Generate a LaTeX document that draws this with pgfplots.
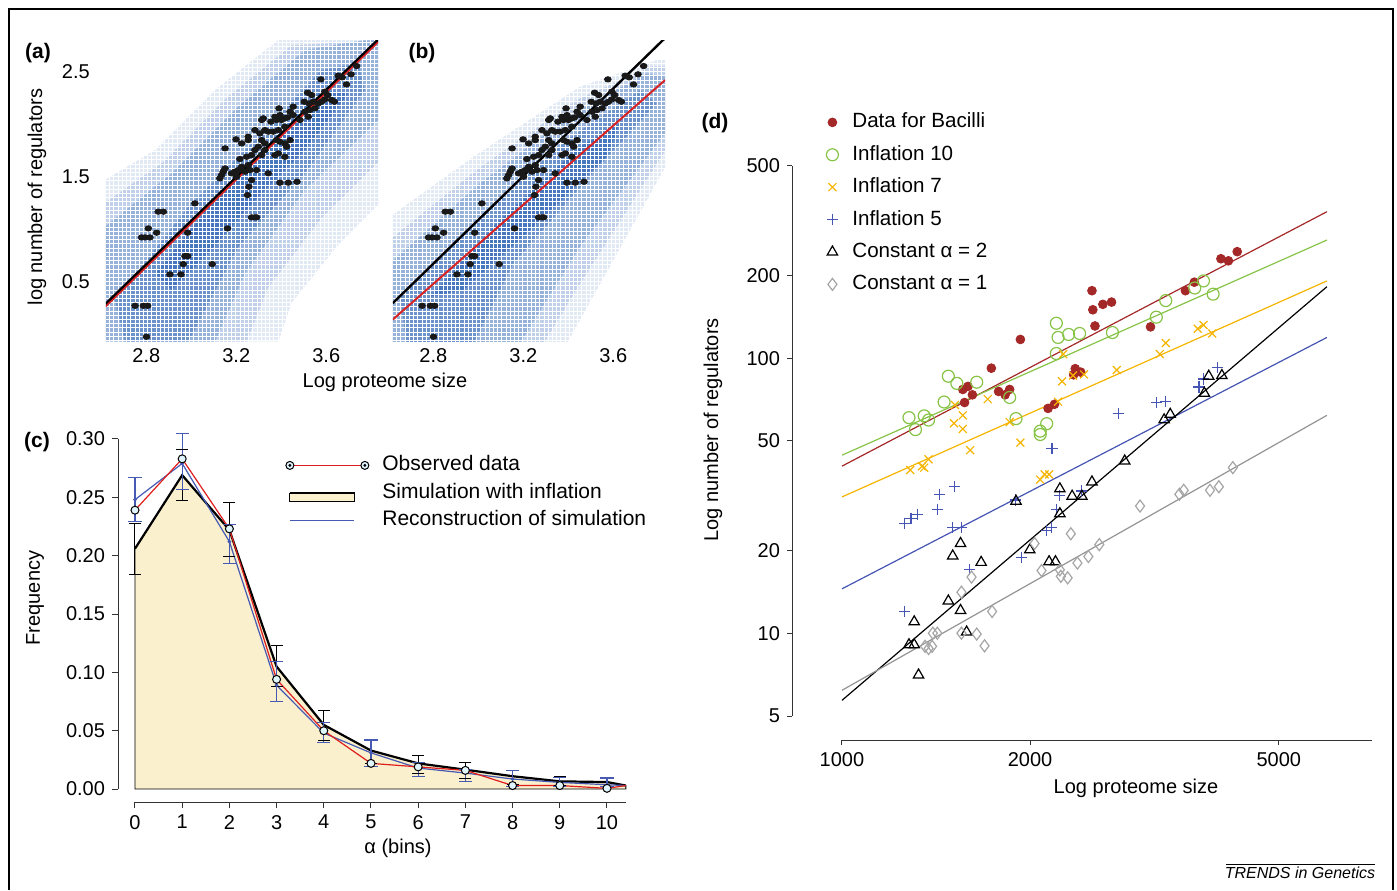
\documentclass[border=0pt]{standalone}
\usepackage{fontspec}
\setmainfont{Liberation Sans}
\usepackage{pgfplots}
\usepackage{pgfplotstable}
\pgfplotsset{compat=1.18}

\definecolor{heat}{RGB}{25,85,175}
\definecolor{fitred}{RGB}{215,35,35}
\definecolor{beige}{RGB}{250,240,205}
\definecolor{recblue}{RGB}{70,90,180}
\definecolor{obsred}{RGB}{225,30,30}
\definecolor{bacred}{RGB}{165,40,40}
\definecolor{infgreen}{RGB}{135,195,70}
\definecolor{infyellow}{RGB}{245,180,0}
\definecolor{infblue}{RGB}{70,85,180}
\definecolor{constgray}{RGB}{165,165,165}

% genomes: log proteome size vs log number of regulators
\pgfplotstableread{
x y
3.735 2.554
3.710 2.475
3.653 2.462
3.671 2.446
3.690 2.379
3.576 2.427
3.594 2.310
3.606 2.278
3.624 2.230
3.636 2.214
3.517 2.300
3.535 2.278
3.502 2.214
3.523 2.198
3.542 2.214
3.564 2.198
3.579 2.214
3.594 2.237
3.505 2.119
3.527 2.135
3.550 2.151
3.520 2.071
3.483 2.040
3.453 2.167
3.439 2.119
3.428 2.065
3.453 2.087
3.390 2.151
3.394 2.087
3.372 2.071
3.379 2.040
3.401 2.040
3.416 2.056
3.354 2.024
3.313 2.040
3.320 2.056
3.416 1.976
3.387 1.944
3.364 1.929
3.342 1.929
3.327 1.944
3.283 1.944
3.305 1.913
3.439 1.849
3.416 1.817
3.424 1.786
3.394 1.833
3.379 1.849
3.253 1.881
3.253 1.849
3.199 1.856
3.224 1.817
3.313 1.849
3.327 1.817
3.298 1.786
3.283 1.754
3.268 1.706
3.246 1.690
3.216 1.668
3.150 1.770
3.387 1.722
3.372 1.706
3.416 1.690
3.313 1.706
3.327 1.754
3.224 1.595
3.209 1.563
3.194 1.548
3.179 1.532
3.201 1.500
3.150 1.579
3.142 1.548
3.135 1.516
3.127 1.484
3.253 1.611
3.261 1.563
3.290 1.563
3.239 1.548
3.342 1.532
3.268 1.468
3.256 1.405
3.250 1.325
3.394 1.443
3.431 1.443
3.470 1.452
3.016 1.246
2.853 1.167
2.876 1.167
3.268 1.113
3.283 1.113
3.290 1.113
2.809 1.008
2.846 0.967
2.984 0.967
3.161 1.008
2.779 0.922
2.794 0.922
2.816 0.922
2.972 0.744
2.984 0.744
2.964 0.668
3.093 0.668
2.905 0.570
2.954 0.570
2.750 0.271
2.787 0.271
2.806 0.271
2.801 -0.024
}\genomes

\pgfplotsset{
  tickfont/.style={font=\fontsize{10}{12}\selectfont},
  heatback/.style={
    scale only axis, width=136.1pt, height=150.7pt,
    xmin=2.62, xmax=3.83, ymin=-0.07, ymax=2.80,
    axis line style={draw=none}, major tick length=0pt,
    xtick={2.6,2.6187,...,3.85}, ytick={-0.1,-0.06,...,2.86},
    xticklabels={}, yticklabels={},
    grid=major, major grid style={white, line width=0.45pt},
    axis on top,
  },
  dotfront/.style={
    scale only axis, width=136.1pt, height=150.7pt,
    xmin=2.62, xmax=3.83, ymin=-0.07, ymax=2.80,
    axis line style={draw=none}, major tick length=0pt,
    xtick={2.8,3.2,3.6}, xticklabels={2.8,3.2,3.6},
    tick label style={tickfont},
  },
  genome/.style={only marks, mark=*, mark size=1.35pt,
    mark options={xscale=1.25, fill=black!90, draw=black!90}},
  heatfill/.style={fill=heat, fill opacity=#1, draw=none},
}

\begin{document}
\begin{tikzpicture}
\path[use as bounding box] (0pt,0pt) rectangle (698.5pt,445pt);

% ---------- (a) ----------
\begin{axis}[heatback, at={(52.9pt,274.2pt)}, anchor=south west]
\addplot[heatfill=0.13] coordinates {(2.616,-0.071) (2.616,1.47) (2.839,1.754) (3.105,2.325) (3.387,2.802) (3.861,2.802) (3.861,1.30) (3.653,0.85) (3.446,0.30) (3.387,-0.071)} -- cycle;
\addplot[heatfill=0.17] coordinates {(2.616,-0.071) (2.616,1.25) (2.876,1.64) (3.157,2.25) (3.446,2.75) (3.861,2.802) (3.861,1.7) (3.58,1.11) (3.34,0.44) (3.246,-0.071)} -- cycle;
\addplot[heatfill=0.25] coordinates {(2.616,-0.071) (2.616,1.024) (2.913,1.532) (3.209,2.167) (3.505,2.706) (3.772,2.802) (3.861,2.802) (3.861,2.1) (3.505,1.373) (3.239,0.579) (3.105,-0.071)} -- cycle;
\addplot[heatfill=0.34] coordinates {(2.705,-0.071) (2.661,0.325) (2.987,1.214) (3.283,1.849) (3.579,2.516) (3.742,2.579) (3.772,2.325) (3.505,1.532) (3.209,0.833) (2.987,-0.071)} -- cycle;
\addplot[heatfill=0.45] coordinates {(2.839,0.579) (3.105,1.278) (3.357,1.849) (3.579,2.325) (3.698,2.294) (3.505,1.754) (3.283,1.278) (3.061,0.738) (2.913,0.421)} -- cycle;
\end{axis}
\begin{axis}[dotfront, at={(52.9pt,274.2pt)}, anchor=south west,
  ytick={0.5,1.5,2.5}, yticklabels={0.5,1.5,2.5},
  yticklabel style={xshift=-4.5pt}]
\addplot[genome] table[x=x, y=y] {\genomes};
\addplot[black, line width=1.6pt] coordinates {(2.62,0.286) (3.83,2.80)};
\addplot[fitred, line width=0.8pt] coordinates {(2.62,0.265) (3.83,2.78)};
\end{axis}

% ---------- (b) ----------
\begin{axis}[heatback, at={(196.4pt,274.2pt)}, anchor=south west]
\addplot[heatfill=0.13] coordinates {(2.607,-0.087) (2.607,1.119) (2.978,1.690) (3.452,2.357) (3.793,2.611) (3.84,2.611) (3.84,1.627) (3.452,0.135) (3.393,-0.087)} -- cycle;
\addplot[heatfill=0.17] coordinates {(2.607,-0.087) (2.607,0.9) (2.99,1.56) (3.437,2.23) (3.77,2.55) (3.84,2.55) (3.84,1.78) (3.452,0.48) (3.29,-0.087)} -- cycle;
\addplot[heatfill=0.25] coordinates {(2.607,-0.087) (2.607,0.675) (3.007,1.437) (3.422,2.103) (3.748,2.484) (3.84,2.452) (3.84,1.944) (3.452,0.833) (3.185,-0.087)} -- cycle;
\addplot[heatfill=0.34] coordinates {(2.681,-0.087) (2.652,0.357) (3.007,1.119) (3.393,1.849) (3.719,2.325) (3.793,2.198) (3.481,1.468) (3.156,0.675) (2.978,-0.087)} -- cycle;
\addplot[heatfill=0.45] coordinates {(2.785,0.357) (3.081,1.056) (3.452,1.786) (3.630,2.008) (3.570,1.690) (3.230,0.992) (2.933,0.421)} -- cycle;
\end{axis}
\begin{axis}[dotfront, at={(196.4pt,274.2pt)}, anchor=south west, ytick=\empty]
\addplot[genome] table[x=x, y=y] {\genomes};
\addplot[black, line width=1.2pt] coordinates {(2.62,0.296) (3.83,2.82)};
\addplot[fitred, line width=1.0pt] coordinates {(2.62,0.14) (3.83,2.42)};
\end{axis}

% ---------- (c) ----------
\begin{axis}[at={(59pt,44pt)}, anchor=south west, scale only axis,
  width=255.1pt, height=181.5pt,
  xmin=-0.36, xmax=10.45, ymin=-0.0111, ymax=0.30,
  axis x line*=bottom, axis y line*=left,
  axis line style={black!80, line width=0.5pt},
  x axis line style={shorten <=8.5pt, shorten >=1pt},
  y axis line style={shorten <=6.5pt},
  tick align=outside, major tick length=3pt,
  tick style={black!80, line width=0.5pt},
  xtick={0,1,2,3,4,5,6,7,8,9,10}, xticklabels={0,1,2,3,4,5,6,7,8,9,10},
  ytick={0,0.05,0.10,0.15,0.20,0.25,0.30},
  yticklabels={0.00,0.05,0.10,0.15,0.20,0.25,0.30},
  tick label style={tickfont},
  clip=false,
  legend style={at={(0.3273,0.9545)}, anchor=north west, draw=none, fill=none,
    inner sep=0pt, row sep=4.25pt, column sep=6.5pt,
    font=\fontsize{10.5}{12}\selectfont,
    nodes={inner sep=0pt, text height=7.5pt, text depth=2pt}},
  legend cell align=left,
]
\addplot[fill=beige, draw=black, line width=0.4pt, forget plot] coordinates {(0,0) (0,0.206) (1,0.269) (2,0.222) (3,0.105) (4,0.055) (5,0.033) (6,0.022) (7,0.0166) (8,0.011) (9,0.0066) (10,0.006) (10.4,0.003) (10.4,0)} -- cycle;
% simulation with inflation, with its error bars
\addplot[black, line width=1.1pt, mark=none, forget plot,
  error bars/.cd, y dir=both, y explicit, error mark=none,
  error bar style={black, line width=0.5pt}]
  coordinates {
  (0,0.206) += (0,0.022) -= (0,0.022)
  (1,0.269) += (0,0.022) -= (0,0.022)
  (2,0.222) += (0,0.024) -= (0,0.023)
  (3,0.105) += (0,0.018) -= (0,0.017)
  (4,0.055) += (0,0.012) -= (0,0.013)
  (5,0.033) += (0,0.009) -= (0,0.011)
  (6,0.022) += (0,0.007) -= (0,0.009)
  (7,0.0166) += (0,0.0064) -= (0,0.0076)
  (8,0.011) += (0,0.005) -= (0,0.007)
  (9,0.0066) += (0,0.0044) -= (0,0.0036)
  (10,0.006) += (0,0.004) -= (0,0.004)
  (10.4,0.003) += (0,0) -= (0,0)
  };
% caps of the simulation error bars (upper and lower ends)
\addplot[only marks, mark=-, mark size=3pt, black, mark options={line width=0.5pt}, forget plot] coordinates {
  (0,0.228) (0,0.184) (1,0.291) (1,0.247) (2,0.246) (2,0.199) (3,0.123) (3,0.088)
  (4,0.067) (4,0.042) (5,0.042) (5,0.022) (6,0.029) (6,0.013) (7,0.023) (7,0.009)
  (8,0.016) (8,0.004) (9,0.011) (9,0.003) (10,0.010) (10,0.002)};
% reconstruction of simulation, with its error bars
\addplot[recblue, line width=0.6pt, mark=*, mark size=0.6pt, forget plot,
  error bars/.cd, y dir=both, y explicit, error mark=none,
  error bar style={recblue, line width=0.6pt}]
  coordinates {
  (0,0.248) += (0,0.019) -= (0,0.019)
  (1,0.279) += (0,0.026) -= (0,0.022)
  (2,0.212) += (0,0.015) -= (0,0.019)
  (3,0.089) += (0,0.020) -= (0,0.014)
  (4,0.048) += (0,0.009) -= (0,0.008)
  (5,0.031) += (0,0.011) -= (0,0.012)
  (6,0.018) += (0,0.005) -= (0,0.007)
  (7,0.0137) += (0,0.0033) -= (0,0.0071)
  (8,0.0086) += (0,0.0074) -= (0,0.0066)
  (9,0.0057) += (0,0.0043) -= (0,0.0037)
  (10,0.0037) += (0,0.0057) -= (0,0.0017)
  };
\addplot[recblue, line width=0.6pt, forget plot] coordinates {(10,0.0037) (10.4,0.003)};
% caps of the reconstruction error bars
\addplot[only marks, mark=-, mark size=3.3pt, recblue, mark options={line width=0.6pt}, forget plot] coordinates {
  (0,0.267) (0,0.229) (1,0.305) (1,0.257) (2,0.227) (2,0.193) (3,0.109) (3,0.075)
  (4,0.057) (4,0.040) (5,0.042) (5,0.019) (6,0.023) (6,0.011) (7,0.017) (7,0.0066)
  (8,0.016) (8,0.002) (9,0.010) (9,0.002) (10,0.0094) (10,0.002)};
% observed data
\addplot[obsred, line width=0.6pt, mark=*, mark size=2pt, mark indices={1,...,11},
  mark options={draw=black, fill=cyan!12, line width=0.5pt}, forget plot] coordinates {(0,0.239) (1,0.283) (2,0.223) (3,0.094) (4,0.050) (5,0.022) (6,0.019) (7,0.016) (8,0.003) (9,0.003) (10,0.0006) (10.4,0.003)};
\addlegendimage{legend image code/.code={
  \draw[draw=obsred, line width=0.7pt] (2pt,0pt) -- (35.5pt,0pt);
  \draw[draw=black, fill=cyan!12, line width=0.5pt] (0pt,0pt) circle (2pt) (37.5pt,0pt) circle (2pt);
  \fill[fill=recblue] (0pt,0pt) circle (0.5pt) (37.5pt,0pt) circle (0.5pt);}}
\addlegendentry{Observed data}
\addlegendimage{legend image code/.code={
  \fill[fill=beige] (0pt,-4pt) rectangle (32.5pt,0pt);
  \draw[draw=black, line width=1.2pt] (0pt,0pt) -- (32.5pt,0pt);}}
\addlegendentry{Simulation with inflation}
\addlegendimage{legend image code/.code={
  \draw[draw=recblue, line width=0.6pt] (0pt,0pt) -- (32pt,0pt);}}
\addlegendentry{Reconstruction of simulation}
\end{axis}

% ---------- (d) ----------
\begin{axis}[at={(396pt,75pt)}, anchor=south west, scale only axis,
  width=290pt, height=287pt,
  xmode=log, ymode=log,
  xmin=832, xmax=7050, ymin=4.09, ymax=500,
  axis x line*=bottom, axis y line*=left,
  axis line style={black!80, line width=0.5pt},
  x axis line style={shorten <=25pt},
  y axis line style={shorten <=12pt},
  tick align=outside, major tick length=2.5pt, minor tick length=0pt,
  tick style={black!80, line width=0.5pt},
  xtick={1000,2000,5000}, xticklabels={1000,2000,5000},
  ytick={5,10,20,50,100,200,500}, yticklabels={5,10,20,50,100,200,500},
  tick label style={tickfont},
  legend style={at={(0.0586,1.0932)}, anchor=north west, draw=none, fill=none,
    inner sep=0pt, row sep=6.7pt, column sep=7pt,
    font=\fontsize{10.3}{12}\selectfont,
    nodes={inner sep=0pt, text height=7.5pt, text depth=2pt}},
  legend cell align=left,
]
\addplot[only marks, mark=*, mark size=2.2pt, bacred] coordinates {
(4290,244) (4040,230) (4153,226) (3663,189) (3545,176) (3117,130) (2512,176) (2615,157) (2700,160) (2520,150) (2540,131) (1930,117) (1734,92) (2362,91.6) (2348,87) (2410,89) (1561,77) (1591,79) (1617,73.6) (1781,75.7) (1824,73.6) (1855,77) (1571,69) (2137,65.7) (2188,68)};
\addlegendentry{Data for Bacilli}
\addplot[only marks, mark=o, mark size=3pt, infgreen, line width=0.6pt] coordinates {
(3789,191) (3668,180) (3926,171) (3297,162) (3184,141) (2709,124) (2203,134) (2217,119) (2305,122) (2400,123) (2203,104) (1855,72) (1899,60.3) (1480,86) (1527,81) (1643,81.8) (1457,69.3) (1280,60.8) (1311,55) (1354,61.7) (1376,59.6) (2126,57.8) (2076,54.3) (2076,52.8)};
\addlegendentry{Inflation 10}
\addplot[only marks, mark=x, mark size=2.8pt, infyellow, line width=0.6pt] coordinates {
(3710,128) (3789,132) (3913,123) (3297,113.6) (3225,103.5) (2753,90.6) (2250,82.4) (2343,86.5) (2440,87.3) (2259,103.5) (2217,69.5) (1855,58.6) (1711,71) (1516,67.6) (1561,62) (1511,58) (1561,55.3) (1604,46.3) (1930,49.3) (2076,36.2) (2110,37.8) (2145,37.8) (1376,42.9) (1343,40.5) (1354,40) (1286,39.2)};
\addlegendentry{Inflation 7}
\addplot[only marks, mark=+, mark size=2.8pt, infblue, line width=0.6pt] coordinates {
(3990,92.3) (3789,84) (3728,78.6) (3297,69.5) (3184,68.9) (2767,62.9) (2168,46.9) (1433,32) (1516,34.1) (1421,28.2) (1321,27) (1290,26.1) (1259,25.1) (1504,24.2) (1553,24.2) (1893,30.5) (1937,18.9) (1601,17) (1259,12) (2232,31.6) (2203,28.2) (2126,23.7) (2161,24.2) (2420,32.9)};
\addlegendentry{Inflation 5}
\addplot[only marks, mark=triangle, mark size=3pt, black, line width=0.6pt] coordinates {
(3863,86) (4054,86.5) (3801,74.6) (3352,62.5) (3277,59.7) (2834,42.3) (2512,35.5) (2420,31.5) (2335,31.5) (2232,33.5) (2232,27.2) (1899,30.2) (1998,20.1) (2145,18.2) (2196,18.2) (1548,21.2) (1504,19.1) (1670,18.1) (1480,13.1) (1548,12.1) (1583,10.1) (1305,11) (1280,9.08) (1305,9.08) (1326,7.05)};
\addlegendentry{Constant α = 2}
\addplot[only marks, mark=diamond, mark size=3pt, constgray, line width=0.6pt] coordinates {
(4221,40) (4009,34.1) (3881,33.1) (3523,33.1) (3467,32) (2999,29) (2581,21) (2479,19) (2381,18) (2324,23) (2232,17) (2240,16.1) (2297,15.9) (2086,16.9) (2033,21.2) (1612,16) (1553,14.1) (1739,12) (1421,10) (1398,10) (1553,10) (1643,9.93) (1691,9.0) (1358,8.96) (1394,8.96) (1376,8.8)};
\addlegendentry{Constant α = 1}
\addplot[bacred, line width=0.6pt, forget plot] coordinates {(1000,40.5) (5970,341)};
\addplot[infgreen, line width=0.6pt, forget plot] coordinates {(1000,44.4) (5970,269)};
\addplot[infyellow, line width=0.6pt, forget plot] coordinates {(1000,31.3) (5970,191)};
\addplot[infblue, line width=0.6pt, forget plot] coordinates {(1000,14.5) (5970,119)};
\addplot[black, line width=0.6pt, forget plot] coordinates {(1000,5.7) (5970,182)};
\addplot[constgray!90!black, line width=0.6pt, forget plot] coordinates {(1000,6.2) (5970,62)};
\end{axis}

% ---------- labels ----------
\begin{scope}[every node/.style={font=\fontsize{10}{12}\selectfont}]
\node[rotate=90] at (18.5pt,346.5pt) {log number of regulators};
\node at (192.5pt,254pt) {Log proteome size};
\node[rotate=90] at (17.5pt,146pt) {Frequency};
\node at (199pt,21pt) {α (bins)};
\node[rotate=90] at (356.5pt,230pt) {Log number of regulators};
\node at (568pt,51pt) {Log proteome size};
\end{scope}
\begin{scope}[every node/.style={font=\fontsize{10.5}{12}\selectfont\bfseries}]
\node at (19pt,418.5pt) {(a)};
\node at (211pt,418.5pt) {(b)};
\node at (18.5pt,224pt) {(c)};
\node at (357.5pt,383.5pt) {(d)};
\end{scope}
\draw[line width=0.6pt] (4.5pt,0pt) -- (4.5pt,440.5pt) -- (696.5pt,440.5pt) -- (696.5pt,0pt);
\node[font=\fontsize{8}{9}\selectfont\itshape] at (650pt,8.5pt) {TRENDS in Genetics};
\draw[line width=0.4pt] (613pt,13pt) -- (687.5pt,13pt);
\end{tikzpicture}
\end{document}
